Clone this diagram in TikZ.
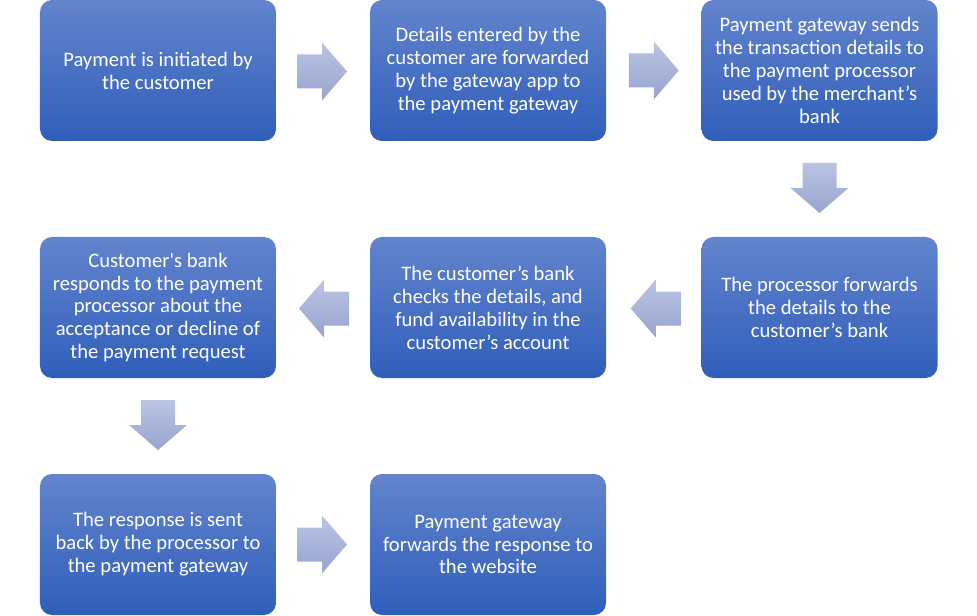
\documentclass[tikz,border=0pt]{standalone}
\usepackage{fontspec}
\setmainfont{Carlito}[Ligatures=TeXOff]
\usetikzlibrary{calc}
\definecolor{boxtop}{RGB}{99,132,205}
\definecolor{boxbot}{RGB}{47,94,186}
\definecolor{arrtop}{RGB}{186,196,228}
\definecolor{arrbot}{RGB}{152,164,207}
\tikzset{
  stepbox/.style={rectangle, rounded corners=12bp, top color=boxtop, bottom color=boxbot,
    draw=none, minimum width=236bp, minimum height=141bp, inner sep=0pt,
    text=white, align=center, font=\fontsize{20.7}{23}\selectfont},
  arrowfill/.style={top color=arrtop, bottom color=arrbot, draw=none},
  pics/rarrow/.style={code={\path[arrowfill] (-25,-17) -- (0,-17) -- (0,-29) -- (25,0) -- (0,29) -- (0,17) -- (-25,17) -- cycle;}},
  pics/larrow/.style={code={\path[arrowfill] (25,-17) -- (0,-17) -- (0,-29) -- (-25,0) -- (0,29) -- (0,17) -- (25,17) -- cycle;}},
  pics/darrow/.style={code={\path[arrowfill] (-17,-25) -- (17,-25) -- (17,0) -- (29,0) -- (0,25) -- (-29,0) -- (-17,0) -- cycle;}}
}
\begin{document}
\begin{tikzpicture}[x=1bp,y=-1bp]
\useasboundingbox (0,0) rectangle (977,616);
\node[stepbox] (b1) at (158,70.5) {Payment is initiated by\\the customer};
\node[stepbox] (b2) at (488,70.5) {Details entered by the\\customer are forwarded\\by the gateway app to\\the payment gateway};
\node[stepbox] (b3) at (819.5,70.5) {Payment gateway sends\\the transaction details to\\the payment processor\\used by the merchant’s\\bank};
\node[stepbox] (b6) at (819.5,307.5) {The processor forwards\\the details to the\\customer’s bank};
\node[stepbox] (b5) at (488,307.5) {The customer’s bank\\checks the details, and\\fund availability in the\\customer’s account};
\node[stepbox] (b4) at (158,307.5) {Customer's bank\\responds to the payment\\processor about the\\acceptance or decline of\\the payment request};
\node[stepbox] (b7) at (158,544.5) {The response is sent\\back by the processor to\\the payment gateway};
\node[stepbox] (b8) at (488,544.5) {Payment gateway\\forwards the response to\\the website};
\coordinate (a12) at ($(b1.east)!0.5!(b2.west)+(-1,1)$);
\coordinate (a23) at ($(b2.east)!0.5!(b3.west)$);
\coordinate (a36) at ($(b3.south)!0.5!(b6.north)+(0,-1)$);
\coordinate (a65) at ($(b6.west)!0.5!(b5.east)+(2,1)$);
\coordinate (a54) at ($(b5.west)!0.5!(b4.east)+(1,1)$);
\coordinate (a47) at ($(b4.south)!0.5!(b7.north)+(0,-1)$);
\coordinate (a78) at ($(b7.east)!0.5!(b8.west)+(-1,0)$);
\pic at (a12) {rarrow};
\pic at (a23) {rarrow};
\pic at (a36) {darrow};
\pic at (a65) {larrow};
\pic at (a54) {larrow};
\pic at (a47) {darrow};
\pic at (a78) {rarrow};
\end{tikzpicture}
\end{document}
